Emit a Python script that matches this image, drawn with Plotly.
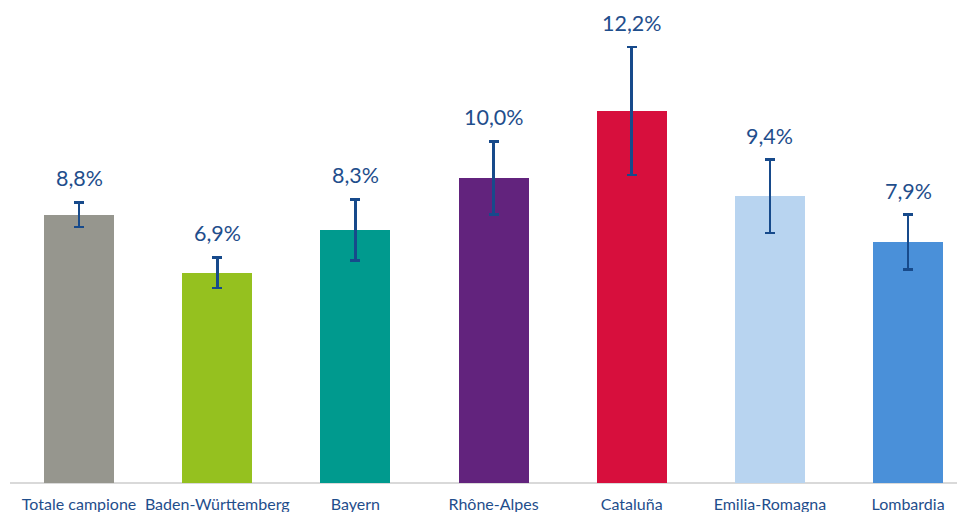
import plotly.graph_objects as go

categories = ["Totale campione", "Baden-Württemberg", "Bayern", "Rhône-Alpes",
              "Cataluña", "Emilia-Romagna", "Lombardia"]
values = [8.8, 6.9, 8.3, 10.0, 12.2, 9.4, 7.9]
errors = [0.4, 0.5, 1.0, 1.2, 2.1, 1.2, 0.9]
labels = ["8,8%", "6,9%", "8,3%", "10,0%", "12,2%", "9,4%", "7,9%"]
colors = ["#96968E", "#95C11F", "#009A8E", "#62237D", "#D70F3D", "#B8D4F0", "#4A90D9"]

text_color = "#1F4E8C"
font_family = "Lato, 'Open Sans', sans-serif"

fig = go.Figure()
fig.add_trace(go.Bar(
    x=list(range(len(categories))),
    y=values,
    width=0.507,
    marker=dict(color=colors, line=dict(width=0)),
    error_y=dict(type="data", array=errors, visible=True,
                 color="#174A8B", thickness=2.5, width=5),
    hoverinfo="skip",
))

for i, (v, e, lab) in enumerate(zip(values, errors, labels)):
    fig.add_annotation(x=i, y=v + e, text=lab, showarrow=False,
                       yanchor="middle", yshift=24,
                       font=dict(size=21.5, color=text_color, family=font_family))

fig.update_layout(
    width=965, height=512,
    margin=dict(l=2, r=0, t=5, b=37),
    plot_bgcolor="white", paper_bgcolor="white",
    showlegend=False,
    bargap=0,
    xaxis=dict(
        tickmode="array", tickvals=list(range(len(categories))), ticktext=categories,
        range=[-0.5, 6.47], showgrid=False, zeroline=False,
        showline=False, ticks="", ticklabelstandoff=10,
        tickfont=dict(size=16, color=text_color, family=font_family),
    ),
    yaxis=dict(range=[0, 15.41], showgrid=False, zeroline=True,
               zerolinecolor="#D9D9D9", zerolinewidth=2,
               showticklabels=False, ticks=""),
)

fig.write_html("out.html")
